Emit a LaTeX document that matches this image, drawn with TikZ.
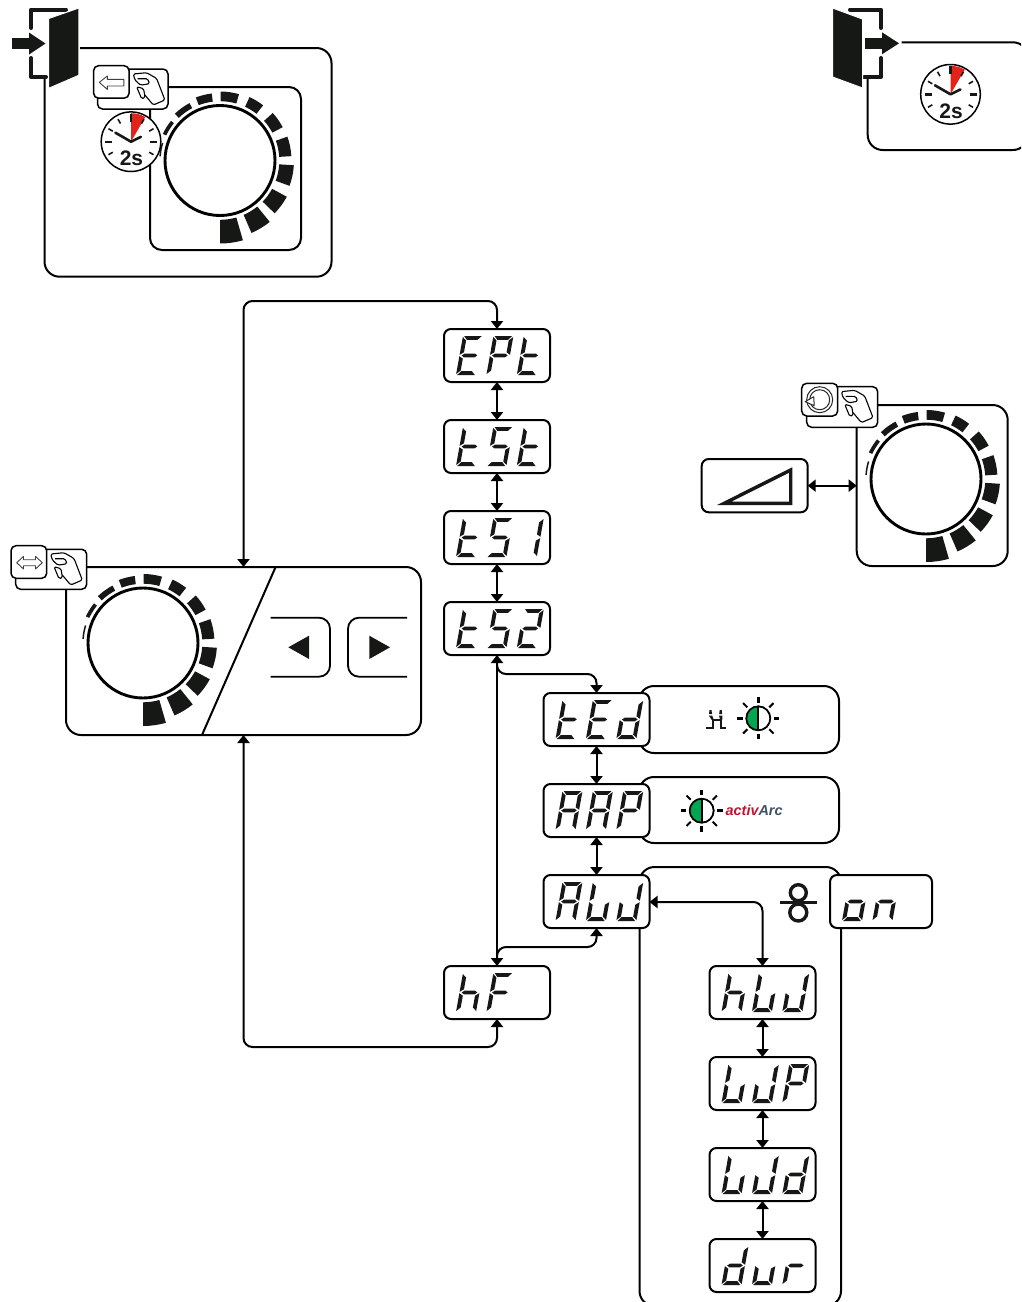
\documentclass[tikz,border=0pt]{standalone}
\usepackage{fontspec}
\setmainfont{Liberation Sans}
\usetikzlibrary{arrows.meta}
\definecolor{ink}{HTML}{161815}
\definecolor{clockred}{HTML}{E2231A}
\definecolor{lampgreen}{HTML}{00A651}
\definecolor{arcred}{HTML}{C4122F}
\definecolor{arcslate}{HTML}{3F5263}
\tikzset{
  panelbox/.style={draw=black,fill=white,line width=2pt,rounded corners=15pt,inner sep=0pt,outer sep=0pt,anchor=north west},
  dispbox/.style={draw=black,fill=white,line width=2pt,rounded corners=7pt,inner sep=0pt,outer sep=0pt,anchor=north west,
     minimum width=106pt,minimum height=53pt,text opacity=0,font=\fontsize{24}{24}\selectfont\itshape},
  iconbox/.style={draw=black,fill=white,line width=1.5pt,rounded corners=5pt,inner sep=0pt,outer sep=0pt,anchor=north west},
  panelline/.style={draw=black,line width=2pt,rounded corners=15pt},
  conn/.style={draw=black,line width=2pt,rounded corners=9pt,{Triangle[length=8pt,width=12pt]}-{Triangle[length=8pt,width=12pt]}},
  connone/.style={draw=black,line width=2pt,rounded corners=9pt,-{Triangle[length=8pt,width=12pt]}},
  glyphline/.style={draw=black!75,line width=.9pt,fill=white,line join=round},
  handline/.style={draw=black,line width=1.1pt,line join=round,rounded corners=1.5pt},
  frameline/.style={draw=ink,line width=4pt,line cap=round,line join=round},
  doorleaf/.style={fill=ink,draw=white,line width=1pt,line join=round},
}
\def\sega{\fill[ink] (1.2,0)--(18.8,0)--(15.2,3.9)--(4.6,3.9)--cycle;}
\def\segd{\fill[ink] (4.6,35.1)--(15.2,35.1)--(18.8,39)--(1.2,39)--cycle;}
\def\segg{\fill[ink] (2.2,19.5)--(4.8,17.6)--(15.2,17.6)--(17.8,19.5)--(15.2,21.4)--(4.8,21.4)--cycle;}
\def\segf{\fill[ink] (0,1)--(3.9,4.5)--(3.9,16.3)--(0,18.8)--cycle;}
\def\sege{\fill[ink] (0,20.2)--(3.9,22.7)--(3.9,34.5)--(0,38)--cycle;}
\def\segb{\fill[ink] (20,1)--(16.1,4.5)--(16.1,16.3)--(20,18.8)--cycle;}
\def\segc{\fill[ink] (20,20.2)--(16.1,22.7)--(16.1,34.5)--(20,38)--cycle;}
% digit in cell #3 (0,1,2) of the display whose top-left corner is (#1,#2)
\newcommand\dgt[4]{\begin{scope}[shift={({#1+19+30.4*#3},{#2+7})},xslant=.18]
  \foreach \sg in {#4}{\csname seg\sg\endcsname}\end{scope}}
\newcommand\dispcell[8]{% name,x,y,text,d1,d2,d3 ,width
  \node[dispbox,minimum width=#8pt] (#1) at (#2,#3) {#4};
  \dgt{#2}{#3}{0}{#5}\dgt{#2}{#3}{1}{#6}\dgt{#2}{#3}{2}{#7}}
\newcommand\knobicon[2]{\begin{scope}[shift={(#1,#2)},x=1pt,y=1pt]
  \foreach \sa/\sb/\sr in {-90/-74/83,-66.5/-51/79,-44/-28.5/76,-20/-3.7/74,3.5/19.5/71.5,28/42/71,52/65/70,74/89.5/69,97/111/67.5,118/134/65,141/155/63,163/176/60.8}
    \fill[ink] (\sa:59.3pt) arc[start angle=\sa,end angle=\sb,radius=59.3pt] -- (\sb:\sr pt) arc[start angle=\sb,end angle=\sa,radius=\sr pt] -- cycle;
  \draw[black,line width=2.9pt,fill=white] (0,0) circle (55pt);
\end{scope}}
\newcommand\clockicon[2]{\begin{scope}[shift={(#1,#2)},x=1pt,y=1pt]
  \draw[black,line width=1.5pt,fill=white] (0,0) circle (29.8pt);
  \fill[clockred] (0,0) -- (90:28.5pt) arc[start angle=90,end angle=60,radius=28.5pt] -- cycle;
  \foreach \ta/\ra/\rb/\tw in {90/20/28/2.4,60/21/26/1.6,30/21/26/1.6,0/19/26/2.4,-30/21/26/1.6,-150/21/26/1.6,180/19/26/2.4,150/21/26/1.6,120/21/26/1.6}
    \draw[ink,line width=\tw pt] (\ta:\ra pt) -- (\ta:\rb pt);
  \draw[ink,line width=2.6pt,line cap=round,line join=round] (150:18pt) -- (0,0) -- (26:11pt);
  \node[inner sep=0pt,text=ink,font=\fontsize{21}{21}\selectfont\bfseries] at (0.5,-16.5) {2s};
\end{scope}}
\newcommand\handicon[2]{\begin{scope}[shift={(#1,#2)}]
  \draw[handline] (51.3,29.3)--(59.7,39.3)--(71.3,34.3)--(63,12.7)--(53,7)--(39.7,8.3)--(41.3,14.3)--(47,19.5)--(56,18)--(54,13)--(44,13);
  \draw[handline] (43,21)--(48,33)--(51.5,32)--(50,23)--cycle;
\end{scope}}
\newcommand\lampicon[2]{\begin{scope}[shift={(#1,#2)},x=1pt,y=1pt]
  \draw[black,line width=1.2pt,fill=white] (0,0) circle (12pt);
  \fill[lampgreen] (0,12) arc[start angle=90,end angle=270,radius=12pt] -- cycle;
  \draw[black,line width=1.7pt] (0,0) circle (12pt);
  \draw[black,line width=2pt] (0,12) -- (0,-12);
  \foreach \ta in {0,90,180,270} \draw[black,line width=2.6pt] (\ta:15.5pt) -- (\ta:21pt);
  \foreach \ta in {45,135,225,315} \draw[black,line width=2pt] (\ta:15.5pt) -- (\ta:21.5pt);
\end{scope}}
\begin{document}
\begin{tikzpicture}[x=1pt,y=-1pt]
\useasboundingbox (0,0) rectangle (1021,1302);
\clip (0,0) rectangle (1021,1302);

% ---------- top-left group
\draw[panelline] (80,48) -- (331.5,48) -- (331.5,276.7) -- (44.5,276.7) -- (44.5,77);
\node[panelbox,rounded corners=12pt,minimum width=151pt,minimum height=163pt] (topknobpanel) at (150,87) {};
\knobicon{220}{160.5}
\node[iconbox,minimum width=70.5pt,minimum height=40pt] (tophandbox) at (97.5,69) {};
\handicon{93.6}{65.7}
\node[iconbox,minimum width=35.5pt,minimum height=32.5pt] (topbackbtn) at (93.6,65.7) {};
\draw[glyphline,shift={(93.6,65.7)}] (5.7,16.7)--(13.7,10.3)--(13.7,13.7)--(30.3,13.7)--(30.3,20.3)--(13.7,20.3)--(13.7,23.7)--cycle;
\clockicon{131}{141.7}
\draw[frameline] (46,77) -- (31,77) -- (31,58);
\draw[frameline] (31,28) -- (31,9.5) -- (66,9.5);
\fill[ink] (12,38) rectangle (29,49);
\fill[ink] (29,32.5) -- (45.5,43.5) -- (29,54.5) -- cycle;
\draw[doorleaf] (48.7,18.5) -- (78.8,8) -- (78.8,75.3) -- (48.7,88.3) -- cycle;

% ---------- top-right group
\draw[panelline] (867.7,77) -- (867.7,150) -- (1028,150) -- (1028,42.3) -- (901.7,42.3);
\clockicon{950.5}{94.3}
\draw[frameline] (864,77) -- (881,77) -- (881,58);
\draw[frameline] (881,28) -- (881,9.5) -- (850,9.5);
\fill[ink] (865,38) rectangle (882,49);
\fill[ink] (882,32.3) -- (899,43.3) -- (882,54.3) -- cycle;
\draw[doorleaf] (832.5,8) -- (862.5,19) -- (862.5,88) -- (832.5,77) -- cycle;

% ---------- right knob with ramp
\node[panelbox,minimum width=151pt,minimum height=161pt] (rightknobpanel) at (856.7,405) {};
\knobicon{926}{479}
\node[iconbox,minimum width=71pt,minimum height=40.6pt] (righthandbox) at (806.7,386.7) {};
\handicon{801.7}{383.3}
\node[iconbox,minimum width=36pt,minimum height=32.7pt] (rightrotbtn) at (801.7,383.3) {};
\begin{scope}[shift={(819.7,399.7)},x=1pt,y=1pt]
  \draw[black!85,line width=1pt] (0,0) circle (13pt) circle (10pt);
  \draw[glyphline,draw=black!85,line width=1pt] (-14.5,-2) -- (-5.5,-6) -- (-6,3) -- cycle;
\end{scope}
\node[panelbox,rounded corners=7pt,minimum width=106pt,minimum height=53.3pt] (rampbox) at (701.7,459) {};
\draw[ink,line width=3.4pt,miter limit=20] (724,503.4) -- (790.7,470) -- (790.7,503.4) -- cycle;
\draw[conn] (rampbox.east) -- (rampbox.east -| rightknobpanel.west);

% ---------- main panel
\node[panelbox,minimum width=355pt,minimum height=168pt] (mainpanel) at (66,567) {};
\coordinate (diagtop) at (275.6,567);
\coordinate (diagbot) at (202,735);
\draw[black,line width=2pt] (diagtop) -- (diagbot);
\knobicon{143}{643}
\node[iconbox,minimum width=71pt,minimum height=40pt] (mainhandbox) at (15.7,549.3) {};
\handicon{11}{545.7}
\node[iconbox,minimum width=35.7pt,minimum height=32.6pt] (mainmodebtn) at (11,545.7) {};
\draw[glyphline,shift={(11,545.7)}] (5.7,17)--(12.5,10.7)--(12.5,14)--(24.5,14)--(24.5,10.7)--(31.3,17)--(24.5,23.3)--(24.5,20)--(12.5,20)--(12.5,23.3)--cycle;
\draw[black,line width=1.8pt,rounded corners=11pt] (270.7,617.7) -- (330,617.7) -- (330,676.7) -- (270.7,676.7);
\draw[black,line width=1.8pt,rounded corners=11pt] (407,617.7) -- (348,617.7) -- (348,676.7) -- (407,676.7);
\fill[ink] (288.3,647.3) -- (309,635.7) -- (309,659) -- cycle;
\fill[ink] (390,647.3) -- (369.3,635.7) -- (369.3,659) -- cycle;

% ---------- side panels
\node[panelbox,minimum width=200pt,minimum height=67pt] (tedpanel) at (639,686) {};
\node[panelbox,minimum width=200pt,minimum height=66pt] (aappanel) at (639,777) {};
\node[panelbox,minimum width=201.5pt,minimum height=439pt] (alupanel) at (639.5,867) {};

% torch glyph
\draw[ink,line width=2.2pt] (706,727.8) -- (712.8,727.8) -- (712.8,720) -- (721.2,720) -- (721.2,727.8) -- (726.3,727.8);
\fill[ink] (709.5,710) -- (711.5,710) -- (712,714) -- (709,714) -- cycle;
\fill[ink] (719.7,710) -- (721.7,710) -- (722.2,714) -- (719.2,714) -- cycle;
\fill[ink] (708.8,715.5) -- (712.2,715.5) -- (713.8,720) -- (711.8,720) -- cycle;
\fill[ink] (719,715.5) -- (722.4,715.5) -- (722.2,720) -- (720.2,720) -- cycle;
\lampicon{758.3}{718.3}
\lampicon{701.7}{810.7}
\node[inner sep=0pt,anchor=west,font=\fontsize{14.4}{14.4}\selectfont\bfseries\itshape] (activarc) at (725.5,810.7) {\textcolor{arcred}{activ}\textcolor{arcslate}{Arc}};

% off-symbol
\draw[ink,line width=3.4pt] (798.3,892.7) circle (8pt);
\draw[ink,line width=3.4pt] (798.3,912.5) circle (8.5pt);
\draw[ink,line width=3.4pt] (780,902.7) -- (816.7,902.7);

% ---------- displays
\dispcell{ept}{444}{329}{EPt}{a,d,e,f,g}{a,b,e,f,g}{d,e,f,g}{106}
\dispcell{tst}{444}{420}{tSt}{d,e,f,g}{a,c,d,f,g}{d,e,f,g}{106}
\dispcell{tsone}{444}{511}{tS1}{d,e,f,g}{a,c,d,f,g}{b,c}{106}
\dispcell{tstwo}{444}{602}{tS2}{d,e,f,g}{a,c,d,f,g}{a,b,d,e,g}{106}
\dispcell{ted}{543.5}{693}{tEd}{d,e,f,g}{a,d,e,f,g}{b,c,d,e,g}{106}
\dispcell{aap}{543.5}{784}{AAP}{a,b,c,e,f,g}{a,b,c,e,f,g}{a,b,e,f,g}{106}
\dispcell{auj}{543.5}{875}{AUJ}{a,b,c,e,f,g}{c,d,e,f}{b,c,d,e}{106}
\dispcell{hf}{444}{966}{hF}{c,e,f,g}{a,e,f,g}{}{106}
\dispcell{huj}{709.5}{966}{hUJ}{c,e,f,g}{c,d,e,f}{b,c,d,e}{106}
\dispcell{ujp}{709.5}{1057}{UJP}{c,d,e,f}{b,c,d,e}{a,b,e,f,g}{106}
\dispcell{ujd}{709.5}{1148}{UJd}{c,d,e,f}{b,c,d,e}{b,c,d,e,g}{106}
\dispcell{dur}{709.5}{1239}{dur}{b,c,d,e,g}{c,d,e}{e,g}{106}
\dispcell{on}{830}{875}{on}{c,d,e,g}{c,e,g}{}{102}

% ---------- connectors
\coordinate (looptop) at (370,301);
\coordinate (loopbot) at (370,1047);
\coordinate (tsjog) at (540,674);
\coordinate (hfjog) at (540,947);
\coordinate (wirecorner) at (762,902);
\draw[conn] (mainpanel.north) |- (looptop) -| (ept.north);
\draw[conn] (mainpanel.south) |- (loopbot) -| (hf.south);
\draw[conn] (ept) -- (tst);
\draw[conn] (tst) -- (tsone);
\draw[conn] (tsone) -- (tstwo);
\draw[conn] (tstwo) -- (hf);
\draw[connone] (tstwo.south) |- (tsjog) -| (ted.north);
\draw[connone] (hf.north) |- (hfjog) -| (auj.south);
\draw[conn] (ted) -- (aap);
\draw[conn] (aap) -- (auj);
\draw[conn] (auj.east |- wirecorner) -| (huj.north);
\draw[conn] (huj) -- (ujp);
\draw[conn] (ujp) -- (ujd);
\draw[conn] (ujd) -- (dur);
\end{tikzpicture}
\end{document}
